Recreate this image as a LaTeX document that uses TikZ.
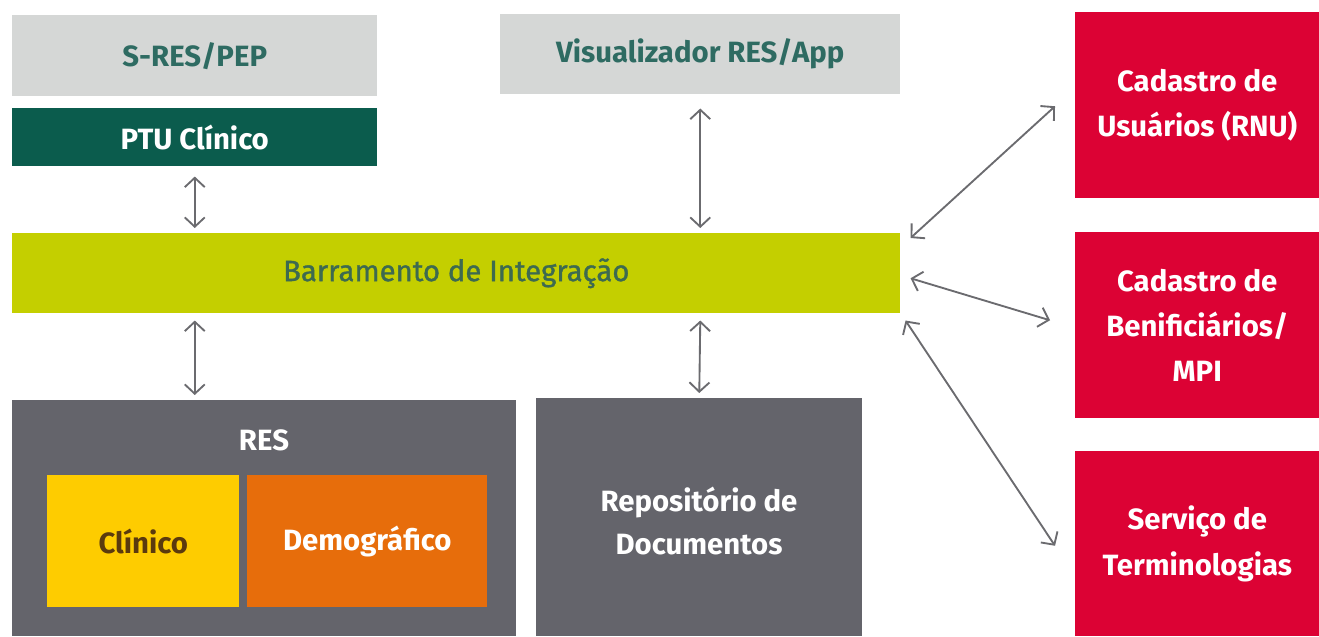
\documentclass[tikz,border=0pt]{standalone}
\usepackage{fontspec}
\setmainfont{Fira Sans}
\newfontfamily\medio[FakeBold=1.2]{Fira Sans}
\usetikzlibrary{arrows.meta,calc}
\newlength\pxu
\setlength\pxu{0.75pt}
\definecolor{cinzaClaro}{HTML}{D5D7D6}
\definecolor{verdeEsc}{HTML}{0B5C4D}
\definecolor{verdeTxt}{HTML}{2E6B62}
\definecolor{lima}{HTML}{C4CF00}
\definecolor{limaTxt}{HTML}{3D6A50}
\definecolor{cinzaEsc}{HTML}{64646B}
\definecolor{amarelo}{HTML}{FECC00}
\definecolor{marromTxt}{HTML}{5B3A0E}
\definecolor{laranja}{HTML}{E76D0B}
\definecolor{vermelho}{HTML}{DC0234}
\definecolor{seta}{HTML}{6B6B6F}
\tikzset{
  caixa/.style={anchor=north west, inner sep=0pt, align=center, font=\fontsize{22}{26}\selectfont\bfseries},
  caixaVerm/.style={caixa, fill=vermelho, text=white, minimum width=244\pxu, font=\fontsize{22}{34}\selectfont\bfseries},
  conector/.style={draw=seta, line width=1.4pt, {Straight Barb[length=7pt,width=15pt]}-{Straight Barb[length=7pt,width=15pt]}}
}

\begin{document}
\begin{tikzpicture}[x=0.75pt,y=0.75pt,yscale=-1,xscale=1]
    \useasboundingbox (0,0) rectangle (1319,636);

    %Shape: Rectangle [S-RES/PEP]
    \node [caixa, fill=cinzaClaro, text=verdeTxt, minimum width=365\pxu, minimum height=81\pxu] (sres) at (12,15) {S-RES/PEP};
    %Shape: Rectangle [PTU]
    \node [caixa, fill=verdeEsc, text=white, minimum width=365\pxu, minimum height=58\pxu] (ptu) at (12,108) {PTU Clínico};
    %Shape: Rectangle [Visualizador]
    \node [caixa, fill=cinzaClaro, text=verdeTxt, minimum width=400\pxu, minimum height=80\pxu] (vis) at (500,14) {Visualizador RES/App};
    %Shape: Rectangle [Barramento]
    \node [caixa, fill=lima, text=limaTxt, minimum width=888\pxu, minimum height=80\pxu, font=\fontsize{22}{26}\medio] (bar) at (12,233) {Barramento de Integração};

    %Shape: Rectangle [RES]
    \node [caixa, fill=cinzaEsc, minimum width=504\pxu, minimum height=236\pxu] (res) at (12,400) {};
    \node [anchor=center, text=white, font=\fontsize{22}{26}\selectfont\bfseries] (restxt) at (264,440) {RES};
    \node [caixa, fill=amarelo, text=marromTxt, minimum width=192\pxu, minimum height=132\pxu] (clin) at (47,475) {Clínico};
    \node [caixa, fill=laranja, text=white, minimum width=240\pxu, minimum height=132\pxu] (demo) at (247,475) {Demográfico};
    %Shape: Rectangle [Repositorio]
    \node [caixa, fill=cinzaEsc, minimum width=326\pxu, minimum height=238\pxu] (repo) at (536,398) {};
    \node [anchor=center, align=center, text=white, font=\fontsize{22}{32}\selectfont\bfseries] (repotxt) at (699,521) {Repositório de\\Documentos};

    %Shape: Rectangle [cadastros]
    \node [caixaVerm, minimum height=186\pxu] (rnu) at (1075,12) {Cadastro de\\Usuários (RNU)};
    \node [caixaVerm, minimum height=186\pxu] (mpi) at (1075,232) {Cadastro de\\Benificiários/\\MPI};
    \node [caixaVerm, minimum height=185\pxu] (term) at (1075,451) {Serviço de\\Terminologias};

    %Arrows
    \draw [conector] ($(ptu.south)+(0,10)$) -- ($(ptu.south |- bar.north)+(0,-5)$);
    \draw [conector] ($(vis.south)+(0,14)$) -- ($(vis.south |- bar.north)+(0,-5)$);
    \draw [conector] ($(ptu.south |- bar.south)+(0,7)$) -- ($(ptu.south |- res.north)+(0,-5)$);
    \draw [conector] ($(vis.south |- bar.south)+(0,7)$) -- ($(repo.north)+(0,-5)$);
    \draw [conector] ($(bar.north east)+(10,5)$) -- ($(rnu.west)+(-20,1)$);
    \draw [conector] ($(bar.east)+(10,5)$) -- ($(mpi.west)+(-25,-5)$);
    \draw [conector] ($(bar.south east)+(5,7)$) -- ($(term.west)+(-20,2)$);
\end{tikzpicture}
\end{document}
